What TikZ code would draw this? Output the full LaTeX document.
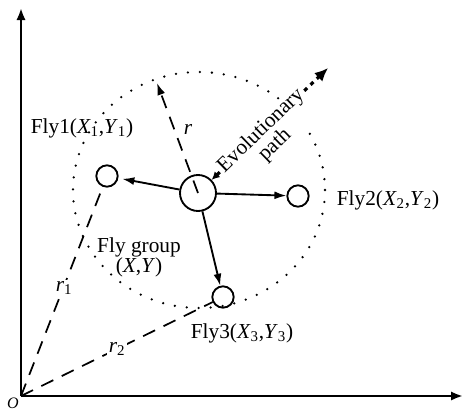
\documentclass[tikz,border=0pt]{standalone}
\usepackage{fontspec}
\setmainfont{Liberation Serif}
\usetikzlibrary{arrows.meta}
\tikzset{
  fly/.style={circle, draw, line width=1.4pt, minimum size=16pt, inner sep=0pt},
  grp/.style={fly, minimum size=27pt},
  axis/.style={-{Latex[length=9pt, width=7pt]}, line width=2pt},
  arr/.style={-{Latex[length=9pt, width=6pt]}, line width=1.4pt},
  rad/.style={dash pattern=on 10pt off 7pt, line width=1.3pt},
  dots/.style={line width=1.9pt, dash pattern=on 0pt off 9pt, line cap=round},
  evol/.style={{Latex[length=6pt, width=6pt]}-{Latex[length=10pt, width=9pt]}, line width=2.4pt,
               dash pattern=on 3pt off 3.5pt},
  lbl/.style={font=\fontsize{16}{15}\selectfont, inner sep=1pt, align=center},
}
\newcommand{\flypos}[2]{(\textit{X}\textsubscript{#1},\textit{Y}\textsubscript{#2})}
\begin{document}
\begin{tikzpicture}[x=0.75pt, y=-0.75pt]
  \useasboundingbox (0,0) rectangle (464,411);
  % axes
  \coordinate (O) at (21,396);
  \coordinate (ytop) at (21,8);
  \coordinate (xend) at (463,396);
  \draw[axis] (O) -- (ytop);
  \draw[axis] (O) -- (xend);
  \node[lbl, inner sep=0pt, font=\fontsize{12}{12}\selectfont\itshape] (olbl) at (13,403) {O};
  % search radius
  \draw[dots] (199,190) ellipse [x radius=126, y radius=118];
  % flies
  \node[grp] (grp) at (198,193) {};
  \node[fly] (f1) at (107,176) {};
  \node[fly] (f2) at (298,196) {};
  \node[fly] (f3) at (223,297) {};
  \coordinate (rend) at (157,83);
  \coordinate (evo) at (328,68);

  \draw[arr, shorten >=3pt] (grp) -- (f1);
  \draw[arr] (grp) -- (f2);
  \draw[arr] (grp) -- (f3);
  \draw[rad, -{Latex[length=9pt, width=6pt]}] (grp.center) -- (rend);
  \draw[rad] (O) -- (f1);
  \draw[rad] (O) -- (f3);
  \draw[evol] (grp) -- (evo);

  \node[lbl, fill=white, rotate=44, inner sep=0pt] (evl) at (268,138) {Evolutionary\\path};
  \node[lbl] (rlbl) at (188,129) {\textit{r}};
  \node[lbl, fill=white] (r1lbl) at (64,288) {\textit{r}\textsubscript{1}};
  \node[lbl, fill=white] (r2lbl) at (117,349) {\textit{r}\textsubscript{2}};
  \node[lbl] (l1) at (82,128) {Fly1\flypos{1}{1}};
  \node[lbl] (l2) at (388,200) {Fly2\flypos{2}{2}};
  \node[lbl] (l3) at (242,333) {Fly3\flypos{3}{3}};
  \node[lbl] (lg) at (139,257) {Fly group\\(\textit{X},\textit{Y})};
\end{tikzpicture}
\end{document}
